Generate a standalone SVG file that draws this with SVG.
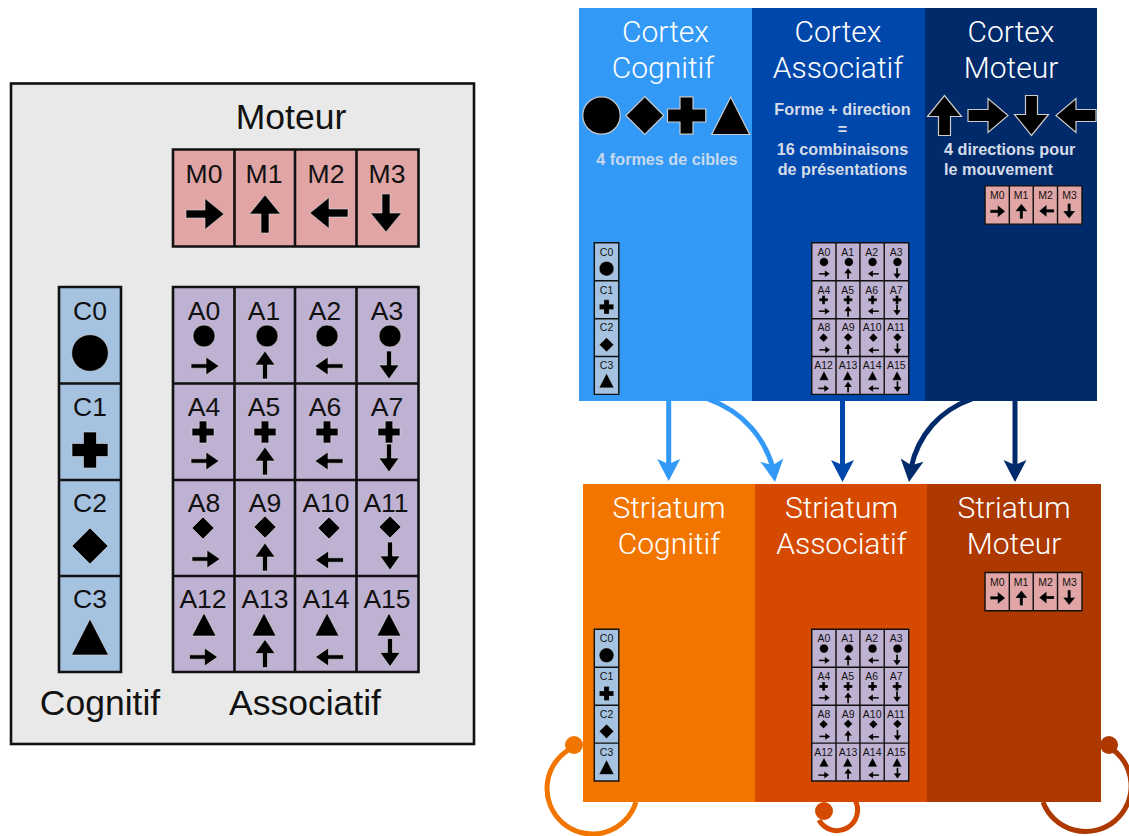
<svg xmlns="http://www.w3.org/2000/svg" xmlns:xlink="http://www.w3.org/1999/xlink" width="1129" height="836" viewBox="0 0 1129 836">
<style>
text{font-family:"Liberation Sans",Arial,sans-serif}
.l{font-size:26.5px;text-anchor:middle;fill:#111}
.h{font-size:35.5px;text-anchor:middle;fill:#111}
.t{font-family:"Roboto","Liberation Sans",sans-serif;font-weight:300;font-size:30px;text-anchor:middle;fill:#fff}
.b{font-size:16.2px;font-weight:700;fill:#d5dce8}
.m{text-anchor:middle}
.s{fill:#000;stroke:#ddd;stroke-width:.6}
.sb{fill:#000;stroke:#ccc;stroke-width:1.2}
.gl{stroke:#111;stroke-width:2.6;fill:none}
.sg .gl{stroke-width:3.6}
.lf{fill:#bfb1d2}.cf{fill:#a5c3e0}.mf{fill:#e2a5a5}
.cx{fill:none;stroke-width:5}
</style>
<defs>
<path id="bR" class="s" d="M-19-4H0V-15.5L19 0 0 15.5V4H-19Z"/>
<path id="bU" class="s" d="M-4 19V0H-15.5L0-19 15.5 0H4V19Z"/>
<path id="bL" class="s" d="M19-4H0V-15.5L-19 0 0 15.5V4H19Z"/>
<path id="bD" class="s" d="M-4-19V0H-15.5L0 19 15.5 0H4V-19Z"/>
<path id="aR" class="s" d="M-14-2.2H1V-9L14 0 1 9V2.2H-14Z"/>
<path id="aU" class="s" d="M-2.5 14V0H-10L0-14 10 0H2.5V14Z"/>
<path id="aL" class="s" d="M14-2.2H-1V-9L-14 0-1 9V2.2H14Z"/>
<path id="aD" class="s" d="M-2.5-14V0H-10L0 14 10 0H2.5V-14Z"/>
<circle id="o" class="s" r="11"/>
<path id="p" class="s" d="M-3.8-11H3.8V-3.8H11V3.8H3.8V11H-3.8V3.8H-11V-3.8H-3.8Z"/>
<path id="d" class="s" d="M0-11 11 0 0 11-11 0Z"/>
<path id="t" class="s" d="M0-12 12 11H-12Z"/>
<circle id="O" class="s" r="18.3"/>
<path id="P" class="s" d="M-6.5-18H6.5V-6.5H18V6.5H6.5V18H-6.5V6.5H-18V-6.5H-6.5Z"/>
<path id="D" class="s" d="M0-18 18 0 0 18-18 0Z"/>
<path id="T" class="s" d="M0-19 18.5 17H-18.5Z"/>
<path id="head" d="M-11.500-22 0-17 11.500-22 0 0Z"/>
<path id="R" class="sb" d="M-20-6H0V-17L20 0 0 17V6H-20Z"/>
<path id="U" class="sb" d="M-6 20V1H-17L0-20 17 1H6V20Z"/>
<path id="Dn" class="sb" d="M-6-20V-1H-17L0 20 17-1H6V-20Z"/>
<path id="L" class="sb" d="M20-6H0V-17L-20 0 0 17V6H20Z"/>
</defs>

<g id="reference-panel">
<rect x="11" y="83.5" width="463" height="660.5" fill="#e9e9e9" stroke="#111" stroke-width="2.6"/>
<text class="h" x="291" y="129">Moteur</text>
<text class="h" x="100" y="715">Cognitif</text>
<text class="h" x="305" y="715">Associatif</text>
</g>

<g id="moteur-grid">
<rect class="mf" x="173" y="149.5" width="245.5" height="97"/>
<path class="gl" d="M173 149.5H418.5V246.5H173ZM234.5 149.5V246.5M295 149.5V246.5M356.5 149.5V246.5"/>
<text class="l" x="204" y="183">M0</text><text class="l" x="264" y="183">M1</text><text class="l" x="326" y="183">M2</text><text class="l" x="387" y="183">M3</text>
<use href="#bR" x="205" y="214"/><use href="#bU" x="265" y="214"/><use href="#bL" x="329" y="213"/><use href="#bD" x="386" y="213"/>
</g>

<g id="cognitif-grid">
<rect class="cf" x="59" y="287" width="62" height="385"/>
<path class="gl" d="M59 287H121V672H59ZM59 383.5H121M59 480H121M59 576H121"/>
<text class="l" x="90" y="320">C0</text><text class="l" x="90" y="416">C1</text><text class="l" x="90" y="512">C2</text><text class="l" x="90" y="608">C3</text>
<use href="#O" x="90" y="353"/><use href="#P" x="90" y="450"/><use href="#D" x="90" y="546"/><use href="#T" x="90" y="638"/>
</g>

<g id="associatif-grid">
<rect class="lf" x="173" y="287" width="245.5" height="385"/>
<path class="gl" d="M173 287H418.5V672H173ZM234.5 287V672M295 287V672M356.5 287V672M173 383.5H418.5M173 480H418.5M173 576H418.5"/>
<text class="l" x="204" y="320">A0</text><text class="l" x="264" y="320">A1</text><text class="l" x="325" y="320">A2</text><text class="l" x="387" y="320">A3</text>
<text class="l" x="204" y="416">A4</text><text class="l" x="264" y="416">A5</text><text class="l" x="325" y="416">A6</text><text class="l" x="387" y="416">A7</text>
<text class="l" x="204" y="512">A8</text><text class="l" x="265" y="512">A9</text><text class="l" x="326" y="512">A10</text><text class="l" x="386" y="512">A11</text>
<text class="l" x="203" y="608">A12</text><text class="l" x="265" y="608">A13</text><text class="l" x="326" y="608">A14</text><text class="l" x="387" y="608">A15</text>
<use href="#o" x="204" y="336"/><use href="#o" x="267" y="336"/><use href="#o" x="327" y="336"/><use href="#o" x="390" y="336"/>
<use href="#p" x="203" y="432"/><use href="#p" x="265" y="432"/><use href="#p" x="327" y="432"/><use href="#p" x="389" y="432"/>
<use href="#d" x="203" y="528"/><use href="#d" x="265" y="527"/><use href="#d" x="329" y="528"/><use href="#d" x="390" y="527"/>
<use href="#t" x="204" y="625"/><use href="#t" x="264" y="625"/><use href="#t" x="327" y="625"/><use href="#t" x="389" y="625"/>
<use href="#aR" x="205" y="366"/><use href="#aU" x="265" y="365"/><use href="#aL" x="329" y="366"/><use href="#aD" x="389" y="365"/>
<use href="#aR" x="205" y="461"/><use href="#aU" x="265" y="461"/><use href="#aL" x="329" y="461"/><use href="#aD" x="389" y="458"/>
<use href="#aR" x="206" y="559"/><use href="#aU" x="265" y="557"/><use href="#aL" x="329.500" y="560"/><use href="#aD" x="390" y="556"/>
<use href="#aR" x="203.500" y="657"/><use href="#aU" x="265" y="653.500"/><use href="#aL" x="329.500" y="657"/><use href="#aD" x="390" y="652.500"/>
</g>

<g id="cortex-cognitif">
<rect x="579" y="8" width="173" height="393" fill="#3399f7"/>
<text class="t" x="665.500" y="42">Cortex</text><text class="t" x="663" y="78">Cognitif</text>
<circle class="sb" cx="601.500" cy="115.500" r="18.700"/>
<path class="sb" d="M644.800 96.500 663.800 115.500 644.800 134.500 625.800 115.500Z"/>
<path class="sb" d="M680 96.800H693V109H705.800V122H693V134.200H680V122H667.500V109H680Z"/>
<path class="sb" d="M730.700 97 749.700 134.500H711.700Z"/>
<text class="b m" x="667" y="164.500" style="fill:#c6d9ec">4 formes de cibles</text>
<g id="cortex-c" class="sg" transform="translate(571 129.600) scale(.395 .394)">
<rect class="cf" x="59" y="287" width="62" height="385"/>
<path class="gl" d="M59 287H121V672H59ZM59 383.500H121M59 480H121M59 576H121"/>
<text class="l" x="90" y="320">C0</text><text class="l" x="90" y="416">C1</text><text class="l" x="90" y="512">C2</text><text class="l" x="90" y="608">C3</text>
<use href="#O" x="90" y="353"/><use href="#P" x="90" y="450"/><use href="#D" x="90" y="546"/><use href="#T" x="90" y="638"/>
</g>
</g>

<g id="cortex-associatif">
<rect x="752" y="8" width="173" height="393" fill="#0047ab"/>
<text class="t" x="838" y="42">Cortex</text><text class="t" x="838" y="78">Associatif</text>
<text class="b m" x="842.500" y="114.500">Forme + direction</text>
<text class="b m" x="842.500" y="134.500">=</text>
<text class="b m" x="842.500" y="154.500">16 combinaisons</text>
<text class="b m" x="842.500" y="174.500">de présentations</text>
<g id="cortex-a" class="sg" transform="translate(743.400 129.600) scale(.395 .394)">
<rect class="lf" x="173" y="287" width="245.500" height="385"/>
<path class="gl" d="M173 287H418.500V672H173ZM234.500 287V672M295 287V672M356.500 287V672M173 383.500H418.500M173 480H418.500M173 576H418.500"/>
<text class="l" x="204" y="320">A0</text><text class="l" x="264" y="320">A1</text><text class="l" x="325" y="320">A2</text><text class="l" x="387" y="320">A3</text>
<text class="l" x="204" y="416">A4</text><text class="l" x="264" y="416">A5</text><text class="l" x="325" y="416">A6</text><text class="l" x="387" y="416">A7</text>
<text class="l" x="204" y="512">A8</text><text class="l" x="265" y="512">A9</text><text class="l" x="326" y="512">A10</text><text class="l" x="386" y="512">A11</text>
<text class="l" x="203" y="608">A12</text><text class="l" x="265" y="608">A13</text><text class="l" x="326" y="608">A14</text><text class="l" x="387" y="608">A15</text>
<use href="#o" x="204" y="336"/><use href="#o" x="267" y="336"/><use href="#o" x="327" y="336"/><use href="#o" x="390" y="336"/>
<use href="#p" x="203" y="432"/><use href="#p" x="265" y="432"/><use href="#p" x="327" y="432"/><use href="#p" x="389" y="432"/>
<use href="#d" x="203" y="528"/><use href="#d" x="265" y="527"/><use href="#d" x="329" y="528"/><use href="#d" x="390" y="527"/>
<use href="#t" x="204" y="625"/><use href="#t" x="264" y="625"/><use href="#t" x="327" y="625"/><use href="#t" x="389" y="625"/>
<use href="#aR" x="205" y="366"/><use href="#aU" x="265" y="365"/><use href="#aL" x="329" y="366"/><use href="#aD" x="389" y="365"/>
<use href="#aR" x="205" y="461"/><use href="#aU" x="265" y="461"/><use href="#aL" x="329" y="461"/><use href="#aD" x="389" y="458"/>
<use href="#aR" x="206" y="559"/><use href="#aU" x="265" y="557"/><use href="#aL" x="329.500" y="560"/><use href="#aD" x="390" y="556"/>
<use href="#aR" x="203.500" y="657"/><use href="#aU" x="265" y="653.500"/><use href="#aL" x="329.500" y="657"/><use href="#aD" x="390" y="652.500"/>
</g>
</g>

<g id="cortex-moteur">
<rect x="925" y="8" width="172" height="393" fill="#012a6b"/>
<text class="t" x="1011" y="42">Cortex</text><text class="t" x="1011" y="78">Moteur</text>
<use href="#U" x="944.500" y="115.500"/><use href="#R" x="988" y="115.500"/><use href="#Dn" x="1031.500" y="115.500"/><use href="#L" x="1076" y="115.500"/>
<text class="b" x="944" y="154.500">4 directions pour</text>
<text class="b" x="944" y="174.500">le mouvement</text>
<g id="cortex-m" class="sg" transform="translate(916.700 127) scale(.395 .394)">
<rect class="mf" x="173" y="149.500" width="245.500" height="97"/>
<path class="gl" d="M173 149.500H418.500V246.500H173ZM234.500 149.500V246.500M295 149.500V246.500M356.500 149.500V246.500"/>
<text class="l" x="204" y="183">M0</text><text class="l" x="264" y="183">M1</text><text class="l" x="326" y="183">M2</text><text class="l" x="387" y="183">M3</text>
<use href="#bR" x="205" y="214"/><use href="#bU" x="265" y="214"/><use href="#bL" x="329" y="213"/><use href="#bD" x="386" y="213"/>
</g>
</g>

<g id="connectors">
<path class="cx" stroke="#f27500" d="M574 747A45.500 45.500 0 1 0 636 802"/>
<circle cx="574" cy="745" r="9" fill="#f27500"/>
<path class="cx" stroke="#d54a00" d="M819 820A20 20 0 0 0 855 800"/>
<circle cx="824" cy="811" r="9" fill="#d54a00"/>
<path class="cx" stroke="#ad3800" d="M1109 747A45.500 45.500 0 1 1 1043 802"/>
<circle cx="1109" cy="745" r="9" fill="#ad3800"/>
<path class="cx" stroke="#3399f7" d="M668.700 400V465"/>
<use href="#head" x="668.700" y="481" fill="#3399f7"/>
<path class="cx" stroke="#3399f7" d="M708 399C745 412 765 440 773 468"/>
<use href="#head" transform="translate(775 482) rotate(-8)" fill="#3399f7"/>
<path class="cx" stroke="#0047ab" d="M842.500 400V465"/>
<use href="#head" x="842.500" y="482" fill="#0047ab"/>
<path class="cx" stroke="#012a6b" d="M972 399C940 410 918 435 911 468"/>
<use href="#head" transform="translate(909 482) rotate(8)" fill="#012a6b"/>
<path class="cx" stroke="#012a6b" d="M1015 400V465"/>
<use href="#head" x="1015" y="482" fill="#012a6b"/>
</g>

<g id="striatum-cognitif">
<rect x="583" y="484" width="172" height="318" fill="#f27500"/>
<text class="t" x="669" y="518">Striatum</text><text class="t" x="669" y="554">Cognitif</text>
<g id="striatum-c" class="sg" transform="translate(571 516.200) scale(.395 .394)">
<rect class="cf" x="59" y="287" width="62" height="385"/>
<path class="gl" d="M59 287H121V672H59ZM59 383.500H121M59 480H121M59 576H121"/>
<text class="l" x="90" y="320">C0</text><text class="l" x="90" y="416">C1</text><text class="l" x="90" y="512">C2</text><text class="l" x="90" y="608">C3</text>
<use href="#O" x="90" y="353"/><use href="#P" x="90" y="450"/><use href="#D" x="90" y="546"/><use href="#T" x="90" y="638"/>
</g>
</g>

<g id="striatum-associatif">
<rect x="755" y="484" width="172" height="318" fill="#d54a00"/>
<text class="t" x="841.500" y="518">Striatum</text><text class="t" x="841.500" y="554">Associatif</text>
<g id="striatum-a" class="sg" transform="translate(743.400 516.200) scale(.395 .394)">
<rect class="lf" x="173" y="287" width="245.500" height="385"/>
<path class="gl" d="M173 287H418.500V672H173ZM234.500 287V672M295 287V672M356.500 287V672M173 383.500H418.500M173 480H418.500M173 576H418.500"/>
<text class="l" x="204" y="320">A0</text><text class="l" x="264" y="320">A1</text><text class="l" x="325" y="320">A2</text><text class="l" x="387" y="320">A3</text>
<text class="l" x="204" y="416">A4</text><text class="l" x="264" y="416">A5</text><text class="l" x="325" y="416">A6</text><text class="l" x="387" y="416">A7</text>
<text class="l" x="204" y="512">A8</text><text class="l" x="265" y="512">A9</text><text class="l" x="326" y="512">A10</text><text class="l" x="386" y="512">A11</text>
<text class="l" x="203" y="608">A12</text><text class="l" x="265" y="608">A13</text><text class="l" x="326" y="608">A14</text><text class="l" x="387" y="608">A15</text>
<use href="#o" x="204" y="336"/><use href="#o" x="267" y="336"/><use href="#o" x="327" y="336"/><use href="#o" x="390" y="336"/>
<use href="#p" x="203" y="432"/><use href="#p" x="265" y="432"/><use href="#p" x="327" y="432"/><use href="#p" x="389" y="432"/>
<use href="#d" x="203" y="528"/><use href="#d" x="265" y="527"/><use href="#d" x="329" y="528"/><use href="#d" x="390" y="527"/>
<use href="#t" x="204" y="625"/><use href="#t" x="264" y="625"/><use href="#t" x="327" y="625"/><use href="#t" x="389" y="625"/>
<use href="#aR" x="205" y="366"/><use href="#aU" x="265" y="365"/><use href="#aL" x="329" y="366"/><use href="#aD" x="389" y="365"/>
<use href="#aR" x="205" y="461"/><use href="#aU" x="265" y="461"/><use href="#aL" x="329" y="461"/><use href="#aD" x="389" y="458"/>
<use href="#aR" x="206" y="559"/><use href="#aU" x="265" y="557"/><use href="#aL" x="329.500" y="560"/><use href="#aD" x="390" y="556"/>
<use href="#aR" x="203.500" y="657"/><use href="#aU" x="265" y="653.500"/><use href="#aL" x="329.500" y="657"/><use href="#aD" x="390" y="652.500"/>
</g>
</g>

<g id="striatum-moteur">
<rect x="927" y="484" width="174" height="318" fill="#ad3800"/>
<text class="t" x="1014" y="518">Striatum</text><text class="t" x="1014" y="554">Moteur</text>
<g id="striatum-m" class="sg" transform="translate(916.700 513.600) scale(.395 .394)">
<rect class="mf" x="173" y="149.500" width="245.500" height="97"/>
<path class="gl" d="M173 149.500H418.500V246.500H173ZM234.500 149.500V246.500M295 149.500V246.500M356.500 149.500V246.500"/>
<text class="l" x="204" y="183">M0</text><text class="l" x="264" y="183">M1</text><text class="l" x="326" y="183">M2</text><text class="l" x="387" y="183">M3</text>
<use href="#bR" x="205" y="214"/><use href="#bU" x="265" y="214"/><use href="#bL" x="329" y="213"/><use href="#bD" x="386" y="213"/>
</g>
</g>
</svg>
